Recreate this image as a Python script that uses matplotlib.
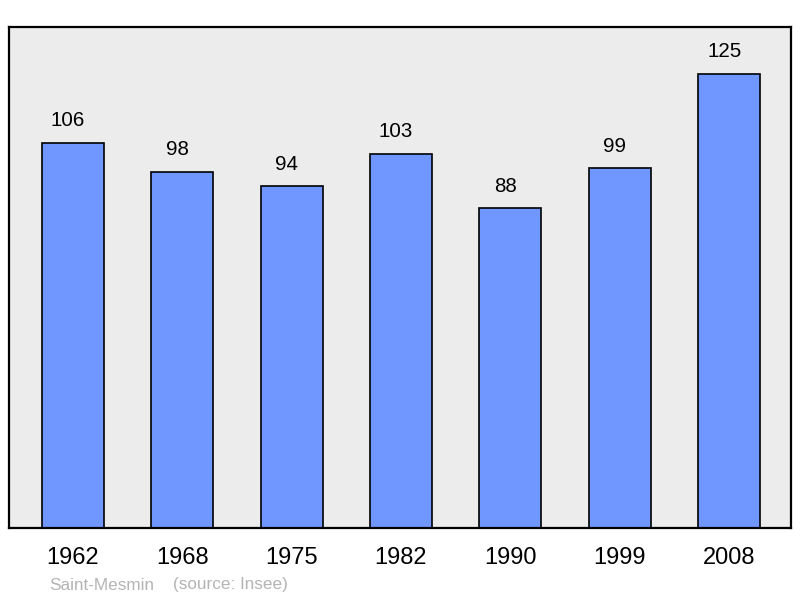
import matplotlib
matplotlib.use("Agg")
from matplotlib import pyplot as plt

years = ["1962", "1968", "1975", "1982", "1990", "1999", "2008"]
population = [106, 98, 94, 103, 88, 99, 125]
town = "Saint-Mesmin"
source = "(source: Insee)"

plt.rcParams['font.family'] = ['Liberation Sans', 'DejaVu Sans']

fig = plt.figure(figsize=(8, 5.98), dpi=100)
# axes box in pixels: x 9..791, y 27..528 (from top)
ax = fig.add_axes([9 / 800, (598 - 528) / 598, 782 / 800, 501 / 598])
ax.set_facecolor("#ececec")

x = list(range(len(years)))
ax.bar(x, population, width=0.567, color="#7096ff", edgecolor="black", linewidth=1.2, zorder=2)

# value labels sit a little left of bar centre in the original
for xi, v in zip(x, population):
    ax.annotate(str(v), (xi, v), xytext=(-3.5, 9), textcoords="offset points",
                ha="center", va="bottom", fontsize=14.8, color="black")

ax.set_xlim(-0.585, 6.567)
ax.set_ylim(0, 137.9)
ax.set_yticks([])
ax.set_xticks(x)
ax.set_xticklabels(years, fontsize=17)
ax.tick_params(axis="x", length=0, pad=13.5)
for s in ax.spines.values():
    s.set_linewidth(1.6)
    s.set_color("black")

fig.text(49 / 800, 1 - 585 / 598, town, fontsize=12.3, color="#b4b4b4", va="center", ha="left")
fig.text(173 / 800, 1 - 585 / 598, source, fontsize=12.3, color="#b4b4b4", va="center", ha="left")

fig.savefig("out.png", dpi=100)
